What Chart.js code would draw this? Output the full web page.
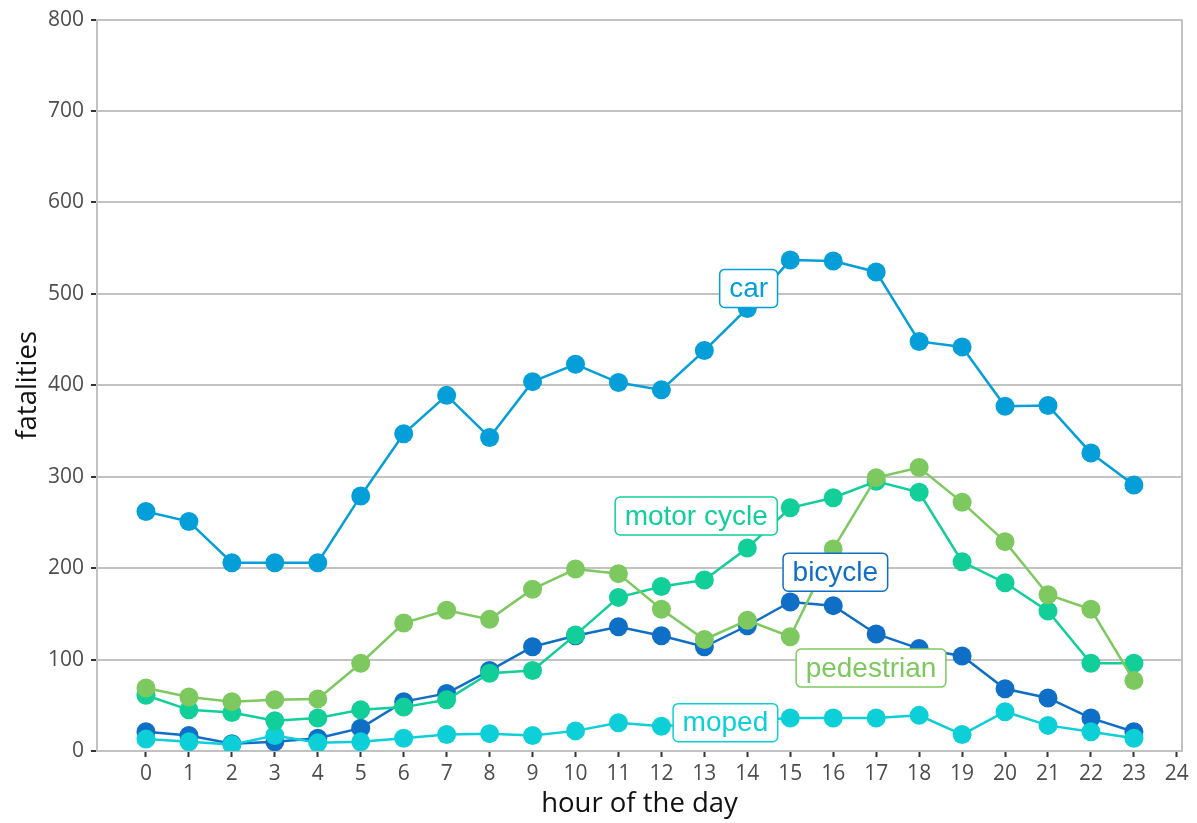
<!DOCTYPE html>
<html>
<head>
<meta charset="utf-8">
<script src="https://cdn.jsdelivr.net/npm/chart.js@4.4.1/dist/chart.umd.min.js"></script>
<style>
    html, body { margin: 0; padding: 0; background: #fff; }
    canvas { display: block; }
</style>
</head>
<body>
<canvas id="fatalChart" width="1197" height="823"></canvas>
<script>
/* ================= DATA ================= */
const hours = [0, 1, 2, 3, 4, 5, 6, 7, 8, 9, 10, 11, 12, 13, 14, 15, 16, 17, 18, 19, 20, 21, 22, 23];

const bicycle    = [21, 17, 8, 10, 14, 25, 54, 63, 88, 114, 126, 136, 126, 114, 137, 163, 159, 128, 112, 104, 68, 58, 36, 21];
const car        = [262, 251, 206, 206, 206, 279, 347, 389, 343, 404, 423, 403, 395, 438, 484, 537, 536, 524, 448, 442, 377, 378, 326, 291];
const moped      = [13, 10, 7, 17, 9, 10, 14, 18, 19, 17, 22, 31, 27, 30, 33, 36, 36, 36, 39, 18, 43, 28, 21, 14];
const motorCycle = [61, 45, 42, 33, 36, 45, 48, 56, 85, 88, 127, 168, 180, 187, 222, 266, 277, 295, 283, 207, 184, 153, 96, 96];
const pedestrian = [69, 59, 54, 56, 57, 96, 140, 154, 144, 177, 199, 194, 155, 122, 143, 125, 221, 299, 310, 272, 229, 171, 155, 77];

const xTicks = [0, 1, 2, 3, 4, 5, 6, 7, 8, 9, 10, 11, 12, 13, 14, 15, 16, 17, 18, 19, 20, 21, 22, 23, 24];
const yTicks = [0, 100, 200, 300, 400, 500, 600, 700, 800];

// series label anchors, in data units (hour, fatalities)
const labelNames = ["car", "motor cycle", "bicycle", "pedestrian", "moped"];
const labelHour  = [14.03, 12.81, 16.05, 16.88, 13.49];
const labelValue = [506, 257, 195.6, 90.7, 31];

/* ================= COLOURS ================= */
const COLORS = {
    "bicycle": "#0f6fc6",
    "car": "#049fd9",
    "moped": "#0dcfd8",
    "motor cycle": "#12ce98",
    "pedestrian": "#7dc95f"
};

const series = [
    { name: "bicycle", values: bicycle },
    { name: "car", values: car },
    { name: "moped", values: moped },
    { name: "motor cycle", values: motorCycle },
    { name: "pedestrian", values: pedestrian }
];

const toPoints = vals => hours.map((h, i) => ({ x: h, y: vals[i] }));

/* ================= PLUGIN: border + labels ================= */
const panelExtras = {
    id: "panelExtras",
    afterDatasetsDraw(chart) {
        const { ctx, chartArea, scales } = chart;

        // right border of the panel
        ctx.save();
        ctx.strokeStyle = "#c2c2c2";
        ctx.lineWidth = 2;
        ctx.beginPath();
        ctx.moveTo(chartArea.right, chartArea.top);
        ctx.lineTo(chartArea.right, chartArea.bottom);
        ctx.stroke();
        ctx.restore();

        // boxed series labels
        ctx.save();
        ctx.font = "28px 'Liberation Sans', Arial, sans-serif";
        ctx.textAlign = "center";
        ctx.textBaseline = "middle";
        labelNames.forEach((name, i) => {
            const cx = scales.x.getPixelForValue(labelHour[i]);
            const cy = scales.y.getPixelForValue(labelValue[i]);
            const w = ctx.measureText(name).width + 19;
            const h = 38;
            ctx.beginPath();
            ctx.roundRect(cx - w / 2, cy - h / 2, w, h, 5);
            ctx.fillStyle = "#ffffff";
            ctx.fill();
            ctx.lineWidth = 1.5;
            ctx.strokeStyle = COLORS[name];
            ctx.stroke();
            ctx.fillStyle = COLORS[name];
            ctx.fillText(name, cx, cy + 1);
        });
        ctx.restore();
    }
};

/* ================= CHART ================= */
const ctx = document.getElementById("fatalChart").getContext("2d");

const chart = new Chart(ctx, {
    type: "line",
    data: {
        datasets: series.map((s, i) => ({
            label: s.name,
            data: toPoints(s.values),
            borderColor: COLORS[s.name],
            backgroundColor: COLORS[s.name],
            borderWidth: 2.5,
            pointRadius: 9.5,
            pointBorderWidth: 0,
            tension: 0,
            order: series.length - i
        }))
    },
    options: {
        responsive: false,
        animation: false,
        layout: { padding: { top: 15, right: 15, left: 0, bottom: 0 } },
        plugins: {
            legend: { display: false },
            tooltip: { enabled: false }
        },
        scales: {
            x: {
                type: "linear",
                min: -1.14,
                max: 24.12,
                afterBuildTicks: scale => { scale.ticks = xTicks.map(v => ({ value: v })); },
                afterFit: scale => { scale.height = 72; },
                ticks: {
                    autoSkip: false,
                    maxRotation: 0,
                    padding: 4,
                    color: "#4d4d4d",
                    font: { family: "'Open Sans'", size: 21 }
                },
                grid: {
                    drawOnChartArea: false,
                    drawTicks: true,
                    tickLength: 6,
                    tickWidth: 2,
                    tickColor: "#333333"
                },
                border: { color: "#c2c2c2", width: 2 },
                title: {
                    display: true,
                    text: "hour of the day",
                    color: "#111111",
                    font: { family: "'Open Sans'", size: 27.5, lineHeight: 1.2 },
                    padding: { top: 0, bottom: 2 }
                }
            },
            y: {
                min: 0,
                max: 800,
                afterBuildTicks: scale => { scale.ticks = yTicks.map(v => ({ value: v })); },
                afterFit: scale => { scale.width = 97; },
                ticks: {
                    padding: 7,
                    color: "#4d4d4d",
                    font: { family: "'Open Sans'", size: 21 }
                },
                grid: {
                    color: "#c2c2c2",
                    lineWidth: 2,
                    drawTicks: true,
                    tickLength: 6,
                    tickWidth: 2,
                    tickColor: "#333333"
                },
                border: { color: "#c2c2c2", width: 2 },
                title: {
                    display: true,
                    text: "fatalities",
                    color: "#111111",
                    font: { family: "'Open Sans'", size: 27.5, lineHeight: 1.2 },
                    padding: { top: 12, bottom: 0 }
                }
            }
        }
    },
    plugins: [panelExtras]
});
</script>
</body>
</html>
